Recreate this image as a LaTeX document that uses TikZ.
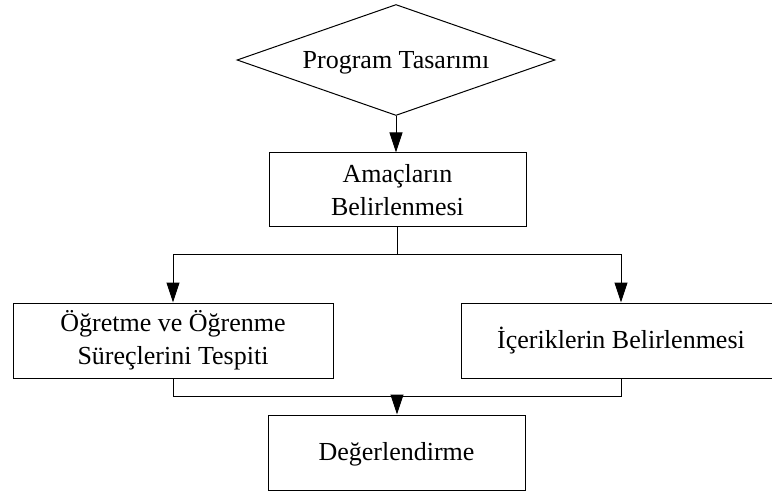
\documentclass[tikz,border=0pt]{standalone}
\usepackage{fontspec}
\setmainfont{Liberation Serif}
\usetikzlibrary{shapes.geometric,arrows.meta}

\tikzset{
  flowline/.style={line width=1pt, draw=black},
  flowarrow/.style={flowline, -{Triangle[length=20pt,width=13pt]}},
  stepbox/.style={draw=black, line width=1pt, rectangle, inner sep=0pt,
    align=center, font=\fontsize{26}{33}\selectfont},
  oneline/.style={text height=18.5pt, text depth=2pt},
  decision/.style={draw=black, line width=1pt, diamond, inner sep=0pt,
    shape aspect=2.865, align=center, font=\fontsize{26}{33}\selectfont},
}

\begin{document}
\begin{tikzpicture}[x=1pt,y=-1pt]
  \useasboundingbox (0,0) rectangle (772,492);
  \clip (0,0) rectangle (772,492);

  % decision and process boxes
  \node[decision, oneline, minimum width=318pt, minimum height=111pt] (design) at (396,60) {Program Tasarımı};
  \node[stepbox, minimum width=257pt, minimum height=74pt] (goals) at (397.5,190) {Amaçların\\Belirlenmesi};
  \node[stepbox, minimum width=320pt, minimum height=75pt] (process) at (173,340.5) {Öğretme ve Öğrenme\\Süreçlerini Tespiti};
  \node[stepbox, oneline, minimum width=320pt, minimum height=75pt] (content) at (621,340.5) {İçeriklerin Belirlenmesi};
  \node[stepbox, oneline, minimum width=257pt, minimum height=75pt] (eval) at (396.5,452.5) {Değerlendirme};

  % junction points of the elbow connectors
  \coordinate (split) at (397,255);
  \coordinate (merge) at (397,396.5);

  % connectors
  \draw[flowarrow] (design.south) -- (design.south |- goals.north);
  \draw[flowline] (goals.south -| split) -- (split);
  \draw[flowarrow] (split) -| (process.north);
  \draw[flowarrow] (split) -| (content.north);
  \draw[flowline] (process.south) |- (merge);
  \draw[flowline] (content.south) |- (merge);
  \draw[flowarrow] (merge) -- (merge |- eval.north);
\end{tikzpicture}
\end{document}
